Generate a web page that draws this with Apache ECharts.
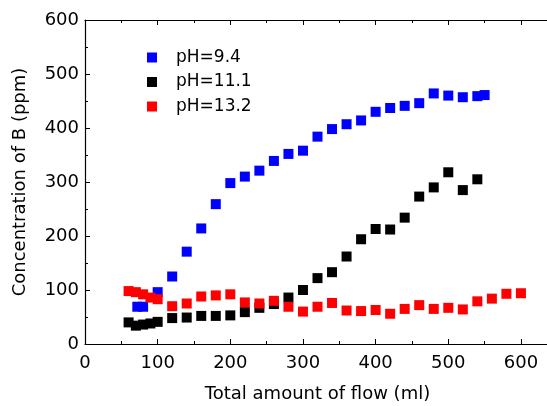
<!DOCTYPE html>
<html>
<head>
<meta charset="utf-8">
<script src="https://cdn.jsdelivr.net/npm/echarts@6/dist/echarts.min.js"></script>
<style>
  html, body { margin: 0; padding: 0; background: #fff; }
  #chart { width: 547px; height: 406px; }
</style>
</head>
<body>
<div id="chart"></div>
<script>
// data: [flow (ml), concentration (ppm)]
const seriesNames = ['pH=9.4', 'pH=11.1', 'pH=13.2'];
const seriesColors = ['#0000ff', '#000000', '#ff0000'];

const ph94 = [
  [72, 69], [80, 69], [100, 96], [120, 125], [140, 171], [160, 214], [180, 259],
  [200, 298], [220, 310], [240, 321], [260, 339], [280, 352], [300, 358], [320, 384],
  [340, 398], [360, 407], [380, 414], [400, 430], [420, 437], [440, 441], [460, 446],
  [480, 464], [500, 460], [520, 457], [540, 459], [550, 461]
];
const ph111 = [
  [60, 40], [70, 34], [80, 36], [90, 38], [100, 41], [120, 48], [140, 49], [160, 52],
  [180, 52], [200, 53], [220, 59], [240, 67], [260, 74], [280, 86], [300, 100],
  [320, 122], [340, 133], [360, 162], [380, 194], [400, 213], [420, 212], [440, 234],
  [460, 273], [480, 290], [500, 318], [520, 285], [540, 305]
];
const ph132 = [
  [60, 98], [70, 96], [80, 92], [90, 86], [100, 83], [120, 70], [140, 75], [160, 88],
  [180, 90], [200, 92], [220, 77], [240, 75], [260, 80], [280, 69], [300, 60],
  [320, 69], [340, 76], [360, 62], [380, 61], [400, 63], [420, 56], [440, 65],
  [460, 72], [480, 65], [500, 67], [520, 64], [540, 79], [560, 84], [580, 93], [600, 94]
];

const xName = 'Total amount of flow (ml)';
const yName = 'Concentration of B (ppm)';

const font = 'DejaVu Sans, sans-serif';
const chart = echarts.init(document.getElementById('chart'));

const axisCommon = {
  axisLine: { lineStyle: { color: '#000', width: 1.2 } },
  axisTick: { inside: true, length: 5, lineStyle: { color: '#000' } },
  minorTick: { show: true, splitNumber: 2, length: 3, lineStyle: { color: '#000' } },
  splitLine: { show: false },
};

const option = {
  animation: false,
  backgroundColor: '#fff',
  grid: { left: 85, top: 20, right: -3, bottom: 62, outerBoundsMode: 'none' },
  legend: {
    data: seriesNames,
    orient: 'vertical',
    left: 142,
    top: 44,
    itemWidth: 10,
    itemHeight: 10,
    itemGap: 7.5,
    icon: 'rect',
    textStyle: { fontFamily: font, fontSize: 17, color: '#000', padding: [0, 0, 0, 14] },
  },
  xAxis: [
    {
      ...axisCommon,
      type: 'value',
      min: 0,
      max: 640,
      interval: 100,
      name: xName,
      nameLocation: 'middle',
      nameGap: 41,
      nameTextStyle: { fontFamily: font, fontSize: 18, color: '#000' },
      axisLabel: { fontFamily: font, fontSize: 18, color: '#000', margin: 10, showMaxLabel: false },
    },
    {
      ...axisCommon,
      type: 'value',
      position: 'top',
      min: 0,
      max: 640,
      interval: 100,
      axisLabel: { show: false },
    },
  ],
  yAxis: {
    ...axisCommon,
    type: 'value',
    min: 0,
    max: 600,
    interval: 100,
    name: yName,
    nameLocation: 'middle',
    nameGap: 56,
    nameTextStyle: { fontFamily: font, fontSize: 18, color: '#000' },
    axisLabel: { fontFamily: font, fontSize: 18, color: '#000', margin: 6 },
  },
  series: [ph94, ph111, ph132].map((d, i) => ({
    name: seriesNames[i],
    type: 'scatter',
    symbol: 'rect',
    symbolSize: 10,
    itemStyle: { color: seriesColors[i], opacity: 1 },
    data: d,
    z: 2 + i,
  })),
};

chart.setOption(option);
</script>
</body>
</html>
